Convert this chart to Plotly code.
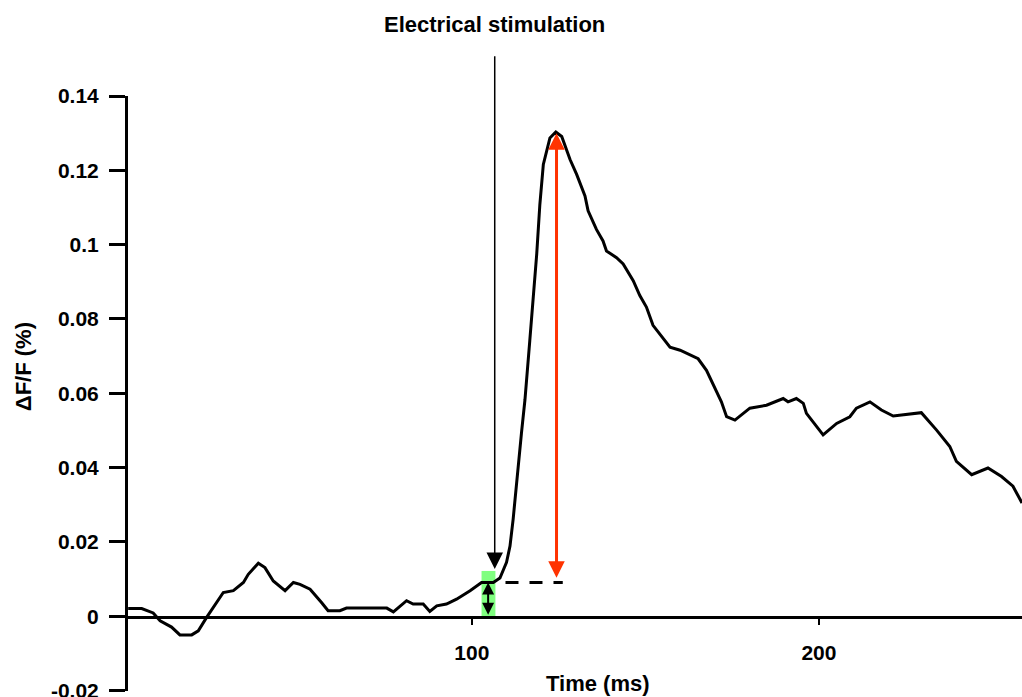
import plotly.graph_objects as go

# ---- data ----
time_ms = [1.0, 4.9, 8.2, 10.2, 13.5, 15.9, 19.3, 21.2, 23.6, 28.4, 31.3, 34.2, 35.6, 38.5,
           40.4, 42.8, 46.2, 48.6, 50.5, 53.4, 56.7, 58.6, 62.0, 63.9, 75.5, 77.4, 81.2,
           83.1, 86.0, 87.9, 89.9, 92.7, 95.6, 99.5, 102.8, 106.2, 108.1, 110.0, 111.0,
           111.9, 114.3, 115.3, 116.7, 118.7, 119.6, 120.6, 122.5, 124.2, 125.9, 128.3,
           130.2, 132.6, 133.5, 135.9, 137.8, 138.8, 141.7, 143.6, 146.5, 148.4, 150.3,
           152.2, 157.1, 160.0, 165.2, 167.6, 171.9, 173.4, 175.8, 180.1, 184.9, 189.7,
           191.1, 193.5, 195.5, 196.4, 201.2, 205.1, 208.9, 210.8, 214.7, 218.0, 221.4,
           224.2, 229.5, 233.9, 237.7, 239.6, 244.0, 248.7, 252.6, 255.9, 258.5]
dff = [0.0021, 0.0021, 0.0009, -0.0012, -0.0029, -0.0050, -0.0050, -0.0039, -0.0003, 0.0064,
       0.0069, 0.0091, 0.0113, 0.0143, 0.0131, 0.0095, 0.0069, 0.0091, 0.0086, 0.0073,
       0.0037, 0.0015, 0.0015, 0.0022, 0.0022, 0.0012, 0.0042, 0.0033, 0.0033, 0.0013,
       0.0028, 0.0033, 0.0046, 0.0069, 0.0091, 0.0091, 0.0103, 0.0145, 0.0189, 0.0261,
       0.0493, 0.0582, 0.0742, 0.0975, 0.1108, 0.1216, 0.1287, 0.1303, 0.1291, 0.1229,
       0.1189, 0.1131, 0.1091, 0.1041, 0.1010, 0.0983, 0.0965, 0.0948, 0.0903, 0.0863,
       0.0832, 0.0783, 0.0724, 0.0716, 0.0693, 0.0662, 0.0577, 0.0537, 0.0528, 0.0560,
       0.0568, 0.0586, 0.0577, 0.0586, 0.0573, 0.0546, 0.0488, 0.0519, 0.0537, 0.0560,
       0.0577, 0.0555, 0.0539, 0.0542, 0.0548, 0.0501, 0.0457, 0.0417, 0.0381, 0.0399,
       0.0376, 0.0350, 0.0305]

y_tick_vals = [-0.02, 0, 0.02, 0.04, 0.06, 0.08, 0.1, 0.12, 0.14]
y_tick_text = ["-0.02", "0", "0.02", "0.04", "0.06", "0.08", "0.1", "0.12", "0.14"]
x_tick_vals = [100, 200]
x_tick_text = ["100", "200"]

# annotation anchors (data units)
stim_time = 106.6
stim_tip = 0.0127
stim_tail = 0.1511
baseline_time = 104.7
baseline_val = 0.0091
green_t0, green_t1 = 102.8, 106.8
green_top = 0.0122
peak_time = 124.4
peak_val = 0.1300
peak_base = 0.0100
dash_t0, dash_t1 = 109.7, 126.2

FONT = "Liberation Sans, Arial, sans-serif"
FS = 21
FS_T = 22

fig = go.Figure()

fig.add_shape(type="rect", xref="x", yref="y", x0=green_t0, x1=green_t1, y0=0, y1=green_top,
              fillcolor="#80FF80", line=dict(width=0), layer="below")

fig.add_trace(go.Scatter(x=time_ms, y=dff, mode="lines",
                         line=dict(color="black", width=3), showlegend=False,
                         hoverinfo="skip"))

fig.add_shape(type="line", xref="x", yref="y", x0=dash_t0, x1=dash_t1,
              y0=baseline_val, y1=baseline_val,
              line=dict(color="black", width=3, dash="13px,11px"))

# stimulation arrow
fig.add_annotation(x=stim_time, y=stim_tip, ax=stim_time, ay=stim_tail,
                   xref="x", yref="y", axref="x", ayref="y", text="",
                   showarrow=True, arrowhead=2, arrowsize=2.2, arrowwidth=1.5,
                   arrowcolor="black", standoff=0, startstandoff=0)
# red double arrow
fig.add_annotation(x=peak_time, y=peak_val, ax=peak_time, ay=peak_base,
                   xref="x", yref="y", axref="x", ayref="y", text="",
                   showarrow=True, arrowhead=2, startarrowhead=2, arrowside="end+start",
                   arrowsize=1.1, startarrowsize=1.1, arrowwidth=3,
                   arrowcolor="#FF3300", standoff=0, startstandoff=0)
# baseline double arrow (black, inside green box)
fig.add_annotation(x=baseline_time, y=baseline_val, ax=baseline_time, ay=0,
                   xref="x", yref="y", axref="x", ayref="y", text="",
                   showarrow=True, arrowhead=2, startarrowhead=2, arrowside="end+start",
                   arrowsize=1.2, startarrowsize=1.2, arrowwidth=2,
                   arrowcolor="black", standoff=0, startstandoff=0)

fig.add_annotation(x=stim_time, y=1.121, xref="x", yref="paper", text="Electrical stimulation",
                   showarrow=False, font=dict(family=FONT, size=FS_T, color="black", weight="bold"),
                   xanchor="center", yanchor="middle")
fig.add_annotation(x=0.526, y=0.012, xref="paper", yref="paper", text="Time (ms)",
                   showarrow=False, font=dict(family=FONT, size=FS_T, color="black", weight="bold"),
                   xanchor="center", yanchor="middle")
fig.add_annotation(x=-0.117, y=0.545, xref="paper", yref="paper", text="ΔF/F (%)",
                   textangle=-90, showarrow=False,
                   font=dict(family=FONT, size=FS_T, color="black", weight="bold"),
                   xanchor="center", yanchor="middle")

fig.update_layout(
    width=1022, height=697,
    margin=dict(l=128, r=0, t=96, b=6, autoexpand=False),
    paper_bgcolor="white", plot_bgcolor="white",
    xaxis=dict(range=[0.95, 258.5], anchor="free", position=0.125, automargin=False,
               showgrid=False, zeroline=False, showline=True, linewidth=3, linecolor="black",
               ticks="outside", ticklen=6, tickwidth=2, tickcolor="black",
               tickvals=x_tick_vals, ticktext=x_tick_text, ticklabelstandoff=10,
               tickfont=dict(family=FONT, size=FS, color="black", weight="bold")),
    yaxis=dict(range=[-0.0201, 0.14], automargin=False,
               showgrid=False, zeroline=False, showline=True, linewidth=3, linecolor="black",
               ticks="outside", ticklen=16, tickwidth=3, tickcolor="black",
               tickvals=y_tick_vals, ticktext=y_tick_text, ticklabelstandoff=6,
               ticklabeloverflow="allow",
               tickfont=dict(family=FONT, size=FS, color="black", weight="bold")),
)

fig.write_html("out.html", config={"displayModeBar": False},
               post_script="document.body.style.margin='0';")
